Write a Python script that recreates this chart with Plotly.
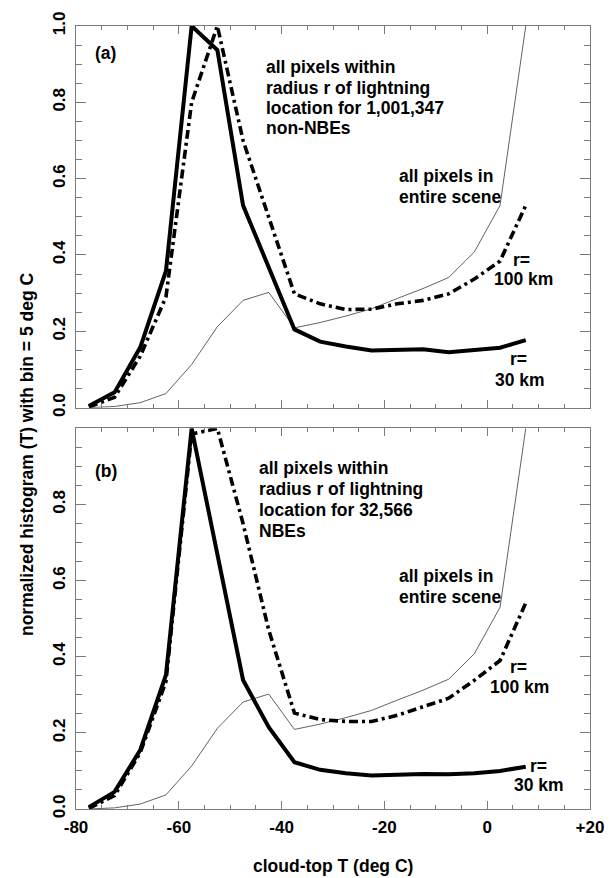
import plotly.graph_objects as go

# Bin centres of cloud-top temperature (deg C), bin width 5 deg C
temp_c = [-77.5, -72.5, -67.5, -62.5, -57.5, -52.5, -47.5, -42.5, -37.5,
          -32.5, -27.5, -22.5, -17.5, -12.5, -7.5, -2.5, 2.5, 7.5]

# Normalized histogram of all pixels in the entire scene (same in both panels)
all_scene = [0.0, 0.003, 0.013, 0.037, 0.113, 0.212, 0.281, 0.302, 0.209,
             0.223, 0.240, 0.259, 0.286, 0.312, 0.341, 0.408, 0.530, 1.0]

# (a) non-NBEs
a_r30 = [0.004, 0.040, 0.158, 0.358, 1.0, 0.937, 0.530, 0.365, 0.205,
         0.173, 0.160, 0.150, 0.152, 0.153, 0.145, 0.150, 0.157, 0.177]
a_r100 = [0.002, 0.027, 0.135, 0.290, 0.800, 1.0, 0.700, 0.500, 0.298,
          0.272, 0.257, 0.258, 0.272, 0.281, 0.298, 0.337, 0.384, 0.530]

# (b) NBEs
b_r30 = [0.005, 0.045, 0.155, 0.352, 1.0, 0.670, 0.339, 0.215, 0.123,
         0.103, 0.094, 0.088, 0.091, 0.092, 0.091, 0.094, 0.100, 0.111]
b_r100 = [0.002, 0.035, 0.148, 0.335, 0.985, 1.0, 0.750, 0.470, 0.252,
          0.235, 0.230, 0.230, 0.246, 0.269, 0.291, 0.338, 0.390, 0.541]

x_tickvals = [-80, -60, -40, -20, 0, 20]
x_ticktext = ["-80", "-60", "-40", "-20", "0", "+20"]
ya_tickvals = [0.0, 0.2, 0.4, 0.6, 0.8, 1.0]
yb_tickvals = [0.0, 0.2, 0.4, 0.6, 0.8]

FONT = "Liberation Sans, Arial, Helvetica, sans-serif"
AXIS_GRAY = "#7a7a7a"

W, H = 616, 878
L, R, T, B = 76, 601, 15, 809


def px_x(px):
    return (px - L) / (R - L)


def px_y(py):
    return (B - py) / (B - T)


fig = go.Figure()

dashdot = "9px,4px,3px,4px"
for xa, ya, r30, r100 in (("x", "y", a_r30, a_r100), ("x2", "y2", b_r30, b_r100)):
    fig.add_trace(go.Scatter(x=temp_c, y=all_scene, mode="lines", xaxis=xa, yaxis=ya,
                             line=dict(color="#3a3a3a", width=0.8), hoverinfo="skip"))
    fig.add_trace(go.Scatter(x=temp_c, y=r100, mode="lines", xaxis=xa, yaxis=ya,
                             line=dict(color="black", width=3.6, dash=dashdot)))
    fig.add_trace(go.Scatter(x=temp_c, y=r30, mode="lines", xaxis=xa, yaxis=ya,
                             line=dict(color="black", width=4)))

xcommon = dict(range=[-80, 20], tickvals=x_tickvals, ticktext=x_ticktext,
               ticks="inside", ticklen=8, tickwidth=1, tickcolor=AXIS_GRAY,
               minor=dict(dtick=5, tick0=0, ticks="inside", ticklen=4, tickcolor=AXIS_GRAY),
               showline=True, linecolor=AXIS_GRAY, linewidth=1, mirror="ticks",
               showgrid=False, zeroline=False,
               tickfont=dict(family=FONT, size=17, color="black", weight="bold"))
ycommon = dict(range=[0, 1], ticks="inside", ticklen=10, tickwidth=1, tickcolor=AXIS_GRAY,
               minor=dict(dtick=0.05, tick0=0, ticks="inside", ticklen=6, tickcolor=AXIS_GRAY),
               showline=True, linecolor=AXIS_GRAY, linewidth=1, mirror="ticks",
               showgrid=False, zeroline=False, tickangle=-90, tickformat=".1f",
               ticklabelstandoff=3,
               tickfont=dict(family=FONT, size=17, color="black", weight="bold"))

top_lo = px_y(402)
bot_hi = px_y(423)

fig.update_layout(
    width=W, height=H,
    margin=dict(l=L, r=W - R, t=T, b=H - B),
    paper_bgcolor="white", plot_bgcolor="white",
    showlegend=False,
    xaxis=dict(xcommon, anchor="y", showticklabels=False),
    yaxis=dict(ycommon, domain=[top_lo, 1], anchor="x", tickvals=ya_tickvals),
    xaxis2=dict(xcommon, anchor="y2", ticklabelstandoff=3),
    yaxis2=dict(ycommon, domain=[0, bot_hi], anchor="x2", tickvals=yb_tickvals),
)

annotations = []


def text(s, x, y, anchor="left", angle=0):
    annotations.append(dict(text=s, x=px_x(x), y=px_y(y), xref="paper", yref="paper",
                            xanchor=anchor, yanchor="middle", showarrow=False,
                            textangle=angle,
                            font=dict(family=FONT, size=17.5, color="black", weight="bold")))


# panel (a)
text("(a)", 93, 42)
for s, y in zip(["all pixels within", "radius r of lightning",
                 "location for 1,001,347", "non-NBEs"], [57, 78, 98, 118.5]):
    text(s, 268, y)
text("all pixels in", 404, 167)
text("entire scene", 404, 188)
text("r=", 531, 252, "center")
text("100 km", 533, 271.5, "center")
text("r=", 528, 353, "center")
text("30 km", 529, 374, "center")

# panel (b)
text("(b)", 93, 466.5)
for s, y in zip(["all pixels within", "radius r of lightning",
                 "location for 32,566", "NBEs"], [463, 484.5, 506, 527]):
    text(s, 261, y)
text("all pixels in", 404, 573)
text("entire scene", 404, 594)
text("r=", 528, 665, "center")
text("100 km", 529, 685, "center")
text("r=", 548, 765, "center")
text("30 km", 548.5, 785, "center")

# axis titles
text("normalized histogram (T) with bin = 5 deg C", 26, 449, "center", -90)
text("cloud-top T (deg C)", 339, 867, "center")

fig.update_layout(annotations=annotations)

fig.write_html("out.html")
